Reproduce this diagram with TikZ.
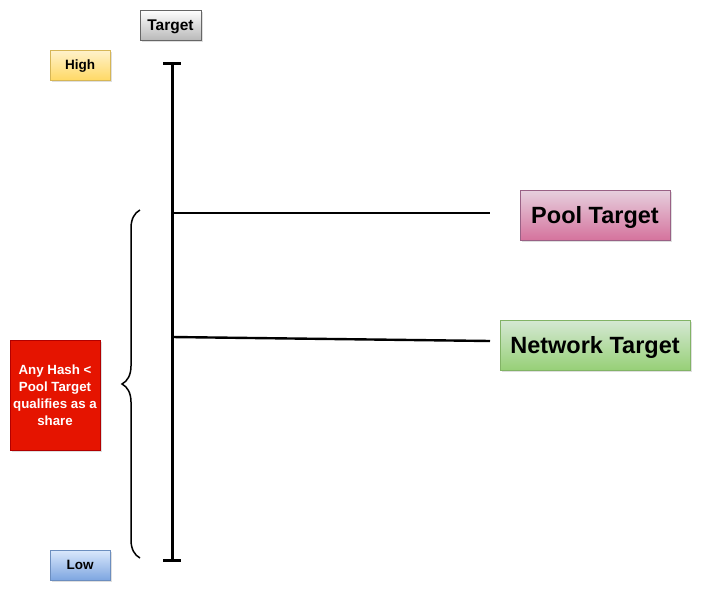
\documentclass[tikz,border=0pt]{standalone}
\usepackage{fontspec}
\setmainfont{Liberation Sans}
\usepackage{xcolor}
\usetikzlibrary{positioning, shadows, decorations.pathreplacing}

\definecolor{grayedge}{HTML}{666666}
\definecolor{yellowtop}{HTML}{FFF2CC}
\definecolor{yellowbot}{HTML}{FFD966}
\definecolor{yellowedge}{HTML}{D6B656}
\definecolor{bluetop}{HTML}{DAE8FC}
\definecolor{bluebot}{HTML}{7EA6E0}
\definecolor{blueedge}{HTML}{6C8EBF}
\definecolor{pinktop}{HTML}{E6D0DE}
\definecolor{pinkbot}{HTML}{D5739D}
\definecolor{pinkedge}{HTML}{996185}
\definecolor{greentop}{HTML}{D5E8D4}
\definecolor{greenbot}{HTML}{97D077}
\definecolor{greenedge}{HTML}{82B366}
\definecolor{sharered}{HTML}{E51400}
\definecolor{shareedge}{HTML}{B20000}

\begin{document}
\begin{tikzpicture}[x=1pt, y=-1pt,
  box/.style={draw, rectangle, inner sep=0pt, font=\bfseries,
    drop shadow={opacity=0.25, shadow xshift=2pt, shadow yshift=-2pt}},
  smallbox/.style={box, minimum width=60pt, minimum height=30pt, text depth=0pt,
    font=\fontsize{13.5}{15}\selectfont\bfseries},
  bigbox/.style={box, minimum height=50pt, text depth=0pt,
    font=\fontsize{23.5}{26}\selectfont\bfseries},
  axis/.style={line width=3pt},
  level/.style={line width=2.4pt}]
  \useasboundingbox (0,0) rectangle (707,597);

  % Labels
  \node[smallbox, minimum width=61pt, draw=grayedge, top color=white, bottom color=gray!55,
    font=\fontsize{15.5}{17}\selectfont\bfseries] (target) at (170.5,25) {Target};
  \node[smallbox, draw=yellowedge, top color=yellowtop, bottom color=yellowbot] (high) at (80,65) {High};
  \node[smallbox, draw=blueedge, top color=bluetop, bottom color=bluebot] (low) at (80,565) {Low};

  % Target scale
  \coordinate (top) at (172,63);
  \coordinate (bot) at (172,560);
  \draw[axis] (top) -- (bot);
  \draw[axis] ([xshift=-9pt]top) -- ([xshift=9pt]top);
  \draw[axis] ([xshift=-9pt]bot) -- ([xshift=9pt]bot);

  % Pool and network levels
  \coordinate (poolstart) at (172,213);
  \coordinate (poolend) at (490,213);
  \coordinate (netstart) at (172,337);
  \coordinate (netend) at (490,341);
  \draw[level] (poolstart) -- (poolend);
  \draw[level] (netstart) -- (netend);
  \node[bigbox, minimum width=150pt, draw=pinkedge, top color=pinktop, bottom color=pinkbot] (pool) at (595,215) {Pool Target};
  \node[bigbox, minimum width=190pt, draw=greenedge, top color=greentop, bottom color=greenbot] (network) at (595,345) {Network Target};

  % Share range
  \coordinate (bracetop) at (140,210);
  \coordinate (bracebot) at (140,558);
  \draw[line width=1.5pt, decorate, decoration={brace, amplitude=18pt}] (bracebot) -- (bracetop);
  \node[box, draw=shareedge, fill=sharered, text=white, minimum width=90pt, minimum height=110pt,
    align=center, font=\fontsize{13.3}{17}\selectfont\bfseries] (share) at (55,395)
    {Any Hash <\\Pool Target\\qualifies as a\\share};
\end{tikzpicture}
\end{document}
